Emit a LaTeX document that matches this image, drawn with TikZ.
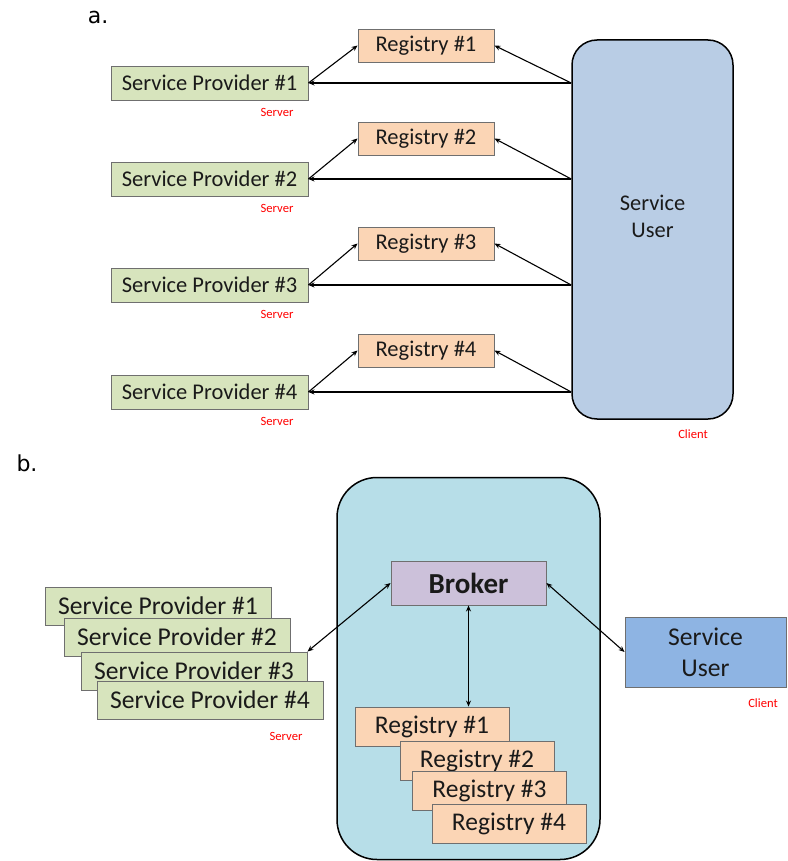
\documentclass[tikz,border=0pt]{standalone}
\usepackage{fontspec}
\setmainfont{Carlito}
\newfontfamily\dejavu{DejaVu Sans}
\usetikzlibrary{arrows.meta}
\definecolor{spgreen}{HTML}{D7E4BD}
\definecolor{regpeach}{HTML}{FBD5B5}
\definecolor{sublue}{HTML}{B9CDE5}
\definecolor{brokerpurple}{HTML}{CCC1DA}
\definecolor{contblue}{HTML}{B7DEE8}
\definecolor{subblue}{HTML}{8EB4E3}
\definecolor{edgegray}{HTML}{6F6F6F}
\definecolor{txt}{HTML}{1A1A1A}
\tikzset{
  box/.style={draw=edgegray, line width=0.9pt, inner sep=0pt, align=center, text=txt},
  spa/.style={box, fill=spgreen, minimum width=197pt, minimum height=34pt, font=\fontsize{22.5}{24}\selectfont},
  rega/.style={box, fill=regpeach, minimum width=136pt, minimum height=33pt, font=\fontsize{22.5}{24}\selectfont},
  spb/.style={box, fill=spgreen, minimum width=226pt, minimum height=38pt, font=\fontsize{25.6}{27}\selectfont},
  regb/.style={box, fill=regpeach, minimum width=154pt, minimum height=39pt, font=\fontsize{25.5}{27}\selectfont},
  redlbl/.style={text=red, font=\fontsize{12.6}{14}\selectfont, inner sep=0pt},
  partlbl/.style={font=\dejavu\fontsize{22}{24}\selectfont, inner sep=0pt},
  conn/.style={line width=1.1pt, -{Stealth[length=6pt,width=5pt]}},
  dconn/.style={line width=1.1pt, {Stealth[length=6pt,width=5pt]}-{Stealth[length=6pt,width=5pt]}},
}
\begin{document}
\begin{tikzpicture}[x=1pt,y=-1pt]
\useasboundingbox (0,0) rectangle (787,861);
% ---------- part a ----------
\node[partlbl] (la) at (98,17) {a.};
\node[draw=black, line width=1.5pt, fill=sublue, rounded corners=25pt, minimum width=161pt, minimum height=379pt] (sua) at (652.5,229.5) {};
\node[align=center, text=txt, font=\fontsize{22.4}{27}\selectfont, inner sep=0pt] (sutxt) at (652.5,216) {Service\\User};
\node[redlbl] (cla) at (693,434) {Client};
\foreach \i/\ry/\sy in {1/45.5/83, 2/138.5/179, 3/243.5/285, 4/350.5/392}{
  \node[rega] (reg\i) at (426,\ry) {Registry \#\i};
  \node[spa] (sp\i) at (209.5,\sy) {Service Provider \#\i};
  \node[redlbl] (srv\i) at (277,\sy+29) {Server};
  \coordinate (s\i) at (sp\i.east -| sua.west);
  \draw[conn] (s\i) -- (sp\i.east);
  \draw[conn] (s\i) -- (reg\i.east);
  \draw[conn] (sp\i.east) -- (reg\i.west);
}
% ---------- part b ----------
\node[partlbl] (lb) at (27,463) {b.};
\node[draw=black, line width=1.5pt, fill=contblue, rounded corners=40pt, minimum width=263pt, minimum height=382pt] (cont) at (468.5,668.5) {};
\node[box, fill=brokerpurple, minimum width=155pt, minimum height=44pt, font=\bfseries\fontsize{29}{31}\selectfont] (broker) at (468.5,583) {Broker};
\node[regb] (rb1) at (432,726.5) {Registry \#1};
\node[regb] (rb2) at (477,760.5) {Registry \#2};
\node[regb] (rb3) at (489.5,791) {Registry \#3};
\node[regb] (rb4) at (509,823.5) {Registry \#4};
\node[spb] (pb1) at (158,606) {Service Provider \#1};
\node[spb] (pb2) at (177,637) {Service Provider \#2};
\node[spb] (pb3) at (194,671) {Service Provider \#3};
\node[spb] (pb4) at (210,700) {Service Provider \#4};
\node[box, fill=subblue, minimum width=161pt, minimum height=70pt, font=\fontsize{25.6}{31}\selectfont] (sub) at (705.5,652) {Service\\User};
\node[redlbl] (srvb) at (286,736) {Server};
\node[redlbl] (clb) at (763,703) {Client};
\draw[dconn] (pb3.north east) -- (broker.west);
\draw[dconn] (broker.south) -- (broker.south |- rb1.north);
\draw[dconn] (broker.east) -- (sub.west);
\end{tikzpicture}
\end{document}
